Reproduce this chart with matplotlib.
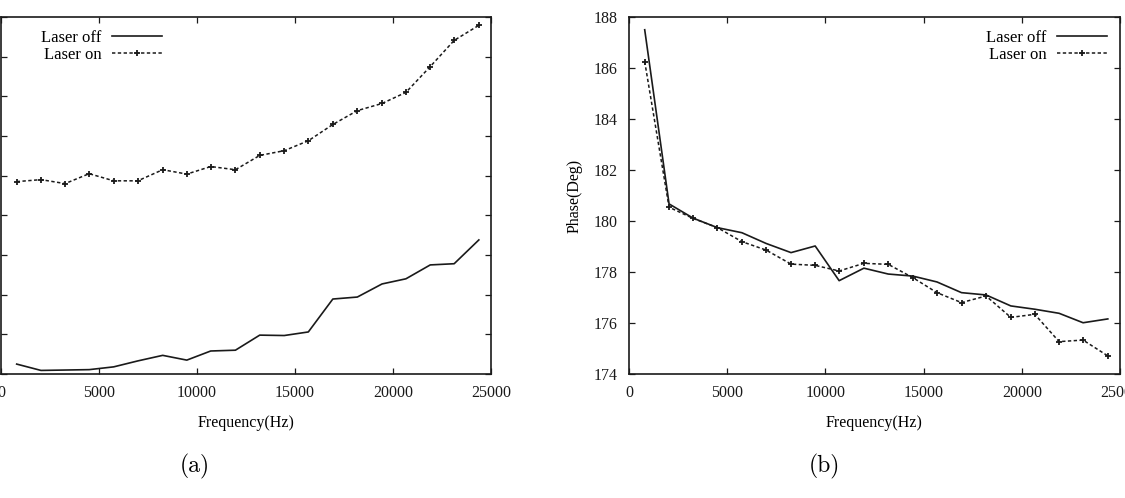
import matplotlib
matplotlib.use("Agg")
import matplotlib.pyplot as plt

# frequencies (Hz) shared by both panels
freq = [800, 2040, 3270, 4500, 5750, 6980, 8250, 9480, 10700, 11960,
        13200, 14450, 15680, 16930, 18180, 19440, 20660, 21900, 23120, 24380]

# (a) amplitude, arbitrary units (axis labels cut off in the reference)
amp_off = [0.25, 0.09, 0.10, 0.11, 0.18, 0.33, 0.47, 0.35, 0.58, 0.60,
           0.98, 0.97, 1.06, 1.89, 1.94, 2.27, 2.40, 2.75, 2.78, 3.38]
amp_on = [4.85, 4.90, 4.80, 5.05, 4.87, 4.87, 5.15, 5.04, 5.23, 5.15,
          5.51, 5.63, 5.88, 6.29, 6.64, 6.82, 7.10, 7.75, 8.41, 8.79]

# (b) phase in degrees
phase_off = [187.5, 180.67, 180.11, 179.74, 179.54, 179.12, 178.76, 179.02, 177.66, 178.15,
             177.92, 177.84, 177.61, 177.19, 177.10, 176.67, 176.54, 176.38, 176.01, 176.16]
phase_on = [186.25, 180.54, 180.10, 179.74, 179.19, 178.86, 178.31, 178.26, 178.04, 178.34,
            178.30, 177.78, 177.19, 176.80, 177.06, 176.22, 176.34, 175.27, 175.33, 174.71]

plt.rcParams['font.family'] = ['Liberation Serif', 'DejaVu Serif']
plt.rcParams['font.size'] = 12

ink = '#1a1a1a'
W, H = 1125, 498
fig = plt.figure(figsize=(W / 100, H / 100), dpi=100)


def box(l, t, r, b):
    return [l / W, 1 - b / H, (r - l) / W, (b - t) / H]


def style(ax):
    for s in ax.spines.values():
        s.set_linewidth(1.2)
        s.set_color(ink)
    ax.tick_params(direction='in', top=True, right=True, length=4, width=0.9,
                   colors=ink, labelsize=11.5, pad=8)
    ax.set_xlim(0, 25000)
    ax.set_xticks([0, 5000, 10000, 15000, 20000, 25000])
    ax.set_xlabel('Frequency(Hz)', fontsize=11.5, labelpad=10)


def draw(ax, off, on, loc):
    ax.plot(freq, off, '-', color=ink, lw=1.2, label='Laser off')
    ax.plot(freq, on, color=ink, lw=1.1, linestyle=(0, (2.2, 1.6)),
            marker='+', ms=5, mew=1.3, label='Laser on')
    ax.legend(loc=loc, frameon=False, markerfirst=False, handlelength=3.0,
              handletextpad=0.6, labelspacing=0.05, fontsize=12,
              borderaxespad=0.4)


ax1 = fig.add_axes(box(1, 17, 491, 374))
style(ax1)
draw(ax1, amp_off, amp_on, 'upper left')
ax1.set_ylim(0, 9)
ax1.set_yticks(range(10))
ax1.set_yticklabels([])
leg = ax1.get_legend()
leg.set_bbox_to_anchor((0.055, 1.0))

ax2 = fig.add_axes(box(629, 17, 1120, 374))
style(ax2)
draw(ax2, phase_off, phase_on, 'upper right')
ax2.set_ylim(174, 188)
ax2.set_yticks(range(174, 189, 2))
ax2.set_ylabel('Phase(Deg)', fontsize=11.5, labelpad=8)

fig.text(195 / W, 1 - 466 / H, '(a)', family='cmr10', fontsize=17,
         ha='center', va='center')
fig.text(824 / W, 1 - 466 / H, '(b)', family='cmr10', fontsize=17,
         ha='center', va='center')

fig.savefig('out.png', dpi=100)
